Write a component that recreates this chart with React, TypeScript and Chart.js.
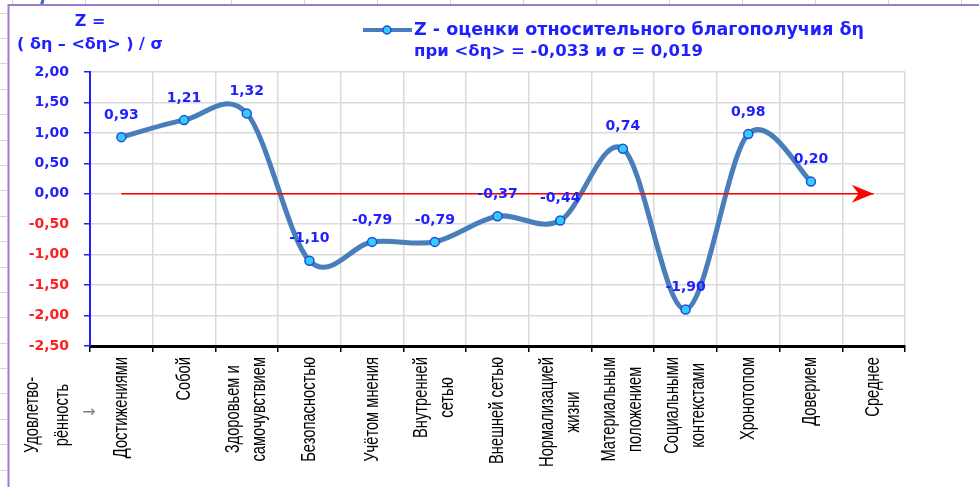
import React, { useEffect, useRef } from "react";
import { Chart, registerables } from "chart.js";

Chart.register(...registerables);

const categories: (string | string[])[] = [
  "Достижениями",
  "Собой",
  ["Здоровьем и", "самочувствием"],
  "Безопасностью",
  "Учётом мнения",
  ["Внутренней", "сетью"],
  "Внешней сетью",
  ["Нормализацией", "жизни"],
  ["Материальным", "положением"],
  ["Социальными", "контекстами"],
  "Хронотопом",
  "Доверием",
  "Среднее",
];

const zValues: (number | null)[] = [0.93, 1.21, 1.32, -1.1, -0.79, -0.79, -0.37, -0.44, 0.74, -1.9, 0.98, 0.2, null];
const averageLine: number[] = [0, 0, 0, 0, 0, 0, 0, 0, 0, 0, 0, 0, 0];

const yMin = -2.5;
const yMax = 2.0;
const yStep = 0.5;

const titleLines = ["Z =", "( δη – <δη> ) / σ"];
const legendLines = ["Z - оценки относительного благополучия δη", "при <δη> = -0,033 и σ = 0,019"];
const sideLabel = ["Удовлетво-", "рённость"];

const BLUE = "#1f1fff";
const RED = "#ff1f1f";
const LINE = "#4a7ebb";
const LABEL_FONT = "20px 'Liberation Sans', Arial, sans-serif";
const NARROW_SCALE = 0.735;
const BOLD = "bold 14px 'DejaVu Sans', sans-serif";

const fmt = (v: number) => v.toFixed(2).replace(".", ",");

const decorPlugin = {
  id: "decor",
  beforeDraw(chart: any) {
    const ctx = chart.ctx;
    ctx.save();
    ctx.fillStyle = "#ffffff";
    ctx.fillRect(0, 0, chart.width, chart.height);
    ctx.strokeStyle = "#d4d4d4";
    ctx.lineWidth = 1;
    for (let x = 12; x < chart.width; x += 73) {
      ctx.beginPath();
      ctx.moveTo(x + 0.5, 0);
      ctx.lineTo(x + 0.5, 4);
      ctx.stroke();
    }
    for (let y = 12.5; y < chart.height; y += 25.4) {
      ctx.beginPath();
      ctx.moveTo(0, Math.round(y) + 0.5);
      ctx.lineTo(7, Math.round(y) + 0.5);
      ctx.stroke();
    }
    ctx.strokeStyle = "#2f6fb5";
    ctx.lineWidth = 3;
    ctx.beginPath();
    ctx.moveTo(43, 0);
    ctx.lineTo(41.5, 5);
    ctx.stroke();
    ctx.strokeStyle = "#a07cc8";
    ctx.lineWidth = 2;
    ctx.beginPath();
    ctx.moveTo(8, 5);
    ctx.lineTo(chart.width, 5);
    ctx.moveTo(8.5, 4);
    ctx.lineTo(8.5, chart.height);
    ctx.stroke();
    ctx.restore();
  },
  beforeDatasetDraw(chart: any, args: any) {
    if (args.index !== 1) return;
    const ctx = chart.ctx;
    const meta = chart.getDatasetMeta(1);
    const pts = meta.data
      .map((p: any, i: number) => ({ p, v: zValues[i] }))
      .filter((o: any) => o.v !== null && o.v !== undefined)
      .map((o: any) => ({ x: o.p.x, y: o.p.y }));
    if (pts.length < 2) return;
    ctx.save();
    ctx.strokeStyle = LINE;
    ctx.lineWidth = 5;
    ctx.lineJoin = "round";
    ctx.lineCap = "round";
    ctx.beginPath();
    ctx.moveTo(pts[0].x, pts[0].y);
    for (let i = 0; i < pts.length - 1; i++) {
      const p0 = pts[i - 1] || pts[i];
      const p1 = pts[i];
      const p2 = pts[i + 1];
      const p3 = pts[i + 2] || pts[i + 1];
      const c1x = p1.x + (p2.x - p0.x) / 6;
      const c1y = p1.y + (p2.y - p0.y) / 6;
      const c2x = p2.x - (p3.x - p1.x) / 6;
      const c2y = p2.y - (p3.y - p1.y) / 6;
      ctx.bezierCurveTo(c1x, c1y, c2x, c2y, p2.x, p2.y);
    }
    ctx.stroke();
    ctx.restore();
  },
  afterDatasetsDraw(chart: any) {
    const ctx = chart.ctx;
    const redMeta = chart.getDatasetMeta(0);
    const last = redMeta.data[redMeta.data.length - 1];
    if (last) {
      const tx = last.x;
      const ty = last.y;
      ctx.save();
      ctx.fillStyle = "#ff0000";
      ctx.beginPath();
      ctx.moveTo(tx, ty);
      ctx.lineTo(tx - 22, ty - 9);
      ctx.lineTo(tx - 15, ty);
      ctx.lineTo(tx - 22, ty + 9);
      ctx.closePath();
      ctx.fill();
      ctx.restore();
    }
    const meta = chart.getDatasetMeta(1);
    ctx.save();
    ctx.font = BOLD;
    ctx.fillStyle = BLUE;
    ctx.textAlign = "center";
    ctx.textBaseline = "middle";
    meta.data.forEach((pt: any, i: number) => {
      const v = zValues[i];
      if (v === null || v === undefined) return;
      ctx.fillText(fmt(v), pt.x, pt.y - 22);
    });
    ctx.restore();
  },
  afterDraw(chart: any) {
    const ctx = chart.ctx;
    const xs = chart.scales.x;
    ctx.save();
    ctx.font = LABEL_FONT;
    ctx.fillStyle = "#000000";
    ctx.textAlign = "center";
    ctx.textBaseline = "middle";
    const top = chart.chartArea.bottom + 11;
    const spacing = 26;
    categories.forEach((lab, i) => {
      const lines = Array.isArray(lab) ? lab : [lab];
      const cx = xs.getPixelForTick(i);
      const maxLen = Math.max(...lines.map((l) => ctx.measureText(l).width)) * NARROW_SCALE;
      lines.forEach((l, j) => {
        const x = cx + (j - (lines.length - 1) / 2) * spacing;
        ctx.save();
        ctx.translate(x, top + maxLen / 2);
        ctx.rotate(-Math.PI / 2);
        ctx.scale(NARROW_SCALE, 1);
        ctx.fillText(l, 0, 0);
        ctx.restore();
      });
    });
    sideLabel.forEach((l, j) => {
      ctx.save();
      ctx.translate(32 + j * 30, 415);
      ctx.rotate(-Math.PI / 2);
      ctx.scale(NARROW_SCALE, 1);
      ctx.fillText(l, 0, 0);
      ctx.restore();
    });
    ctx.fillStyle = "#808080";
    ctx.font = "16px 'DejaVu Sans', sans-serif";
    ctx.fillText("→", 89, 413);
    ctx.font = "bold 16px 'DejaVu Sans', sans-serif";
    ctx.fillStyle = BLUE;
    ctx.fillText(titleLines[0], 90, 22);
    ctx.fillText(titleLines[1], 90, 45);
    ctx.strokeStyle = LINE;
    ctx.lineWidth = 4;
    ctx.beginPath();
    ctx.moveTo(363, 30);
    ctx.lineTo(412, 30);
    ctx.stroke();
    ctx.fillStyle = "#33ccff";
    ctx.strokeStyle = "#1f4fd8";
    ctx.lineWidth = 1.5;
    ctx.beginPath();
    ctx.arc(387, 30, 4, 0, Math.PI * 2);
    ctx.fill();
    ctx.stroke();
    ctx.fillStyle = BLUE;
    ctx.textAlign = "left";
    ctx.font = "bold 17.5px 'DejaVu Sans', sans-serif";
    ctx.fillText(legendLines[0], 414, 30);
    ctx.font = "bold 16.5px 'DejaVu Sans', sans-serif";
    ctx.fillText(legendLines[1], 414, 52);
    ctx.restore();
  },
};

export default function App() {
  const ref = useRef<HTMLCanvasElement | null>(null);
  useEffect(() => {
    if (!ref.current) return;
    const chart = new Chart(ref.current, {
      type: "line",
      data: {
        labels: categories.map((c) => (Array.isArray(c) ? c.join(" ") : c)),
        datasets: [
          {
            label: "Среднее",
            data: averageLine,
            borderColor: "#ff0000",
            borderWidth: 1.5,
            pointRadius: 0,
            tension: 0,
          },
          {
            label: legendLines.join(" "),
            data: zValues,
            borderColor: LINE,
            borderWidth: 5,
            showLine: false,
            pointRadius: 4.5,
            pointBackgroundColor: "#33ccff",
            pointBorderColor: "#1f4fd8",
            pointBorderWidth: 1.5,
          },
        ],
      },
      options: {
        responsive: false,
        animation: false,
        devicePixelRatio: 1,
        layout: { padding: { left: 0, top: 72, right: 74, bottom: 0 } },
        plugins: { legend: { display: false }, tooltip: { enabled: false } },
        scales: {
          x: {
            type: "category",
            offset: true,
            grid: { offset: true, color: "#d9d9d9", lineWidth: 1.5, tickColor: "#000000", tickLength: 6 },
            border: { color: "#000000", width: 3 },
            ticks: { display: false },
            afterFit: (s: any) => {
              s.height = 141;
            },
          },
          y: {
            min: yMin,
            max: yMax,
            grid: { color: "#d9d9d9", lineWidth: 1.5, tickColor: BLUE, tickLength: 6 },
            border: { color: BLUE, width: 2 },
            ticks: {
              stepSize: yStep,
              padding: 15,
              font: { family: "'DejaVu Sans', sans-serif", size: 14, weight: "bold" },
              color: (c: any) => (c.tick && c.tick.value < 0 ? RED : BLUE),
              callback: (v: any) => fmt(Number(v)),
            },
            afterFit: (s: any) => {
              s.width = 90;
            },
          },
        },
      },
      plugins: [decorPlugin],
    } as any);
    return () => chart.destroy();
  }, []);
  return (
    <div style={{ position: "fixed", left: 0, top: 0, width: 979, height: 487, background: "#fff" }}>
      <canvas ref={ref} width={979} height={487} style={{ width: 979, height: 487, display: "block" }} />
    </div>
  );
}
